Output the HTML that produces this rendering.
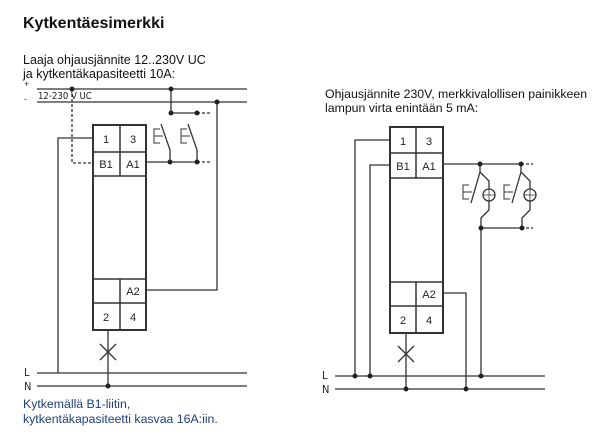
<!DOCTYPE html>
<html><head><meta charset="utf-8"><style>
html,body{margin:0;padding:0;background:#fff;}
svg{display:block;}
text{font-family:"Liberation Sans",Arial,sans-serif;}
.t{font-family:"DejaVu Sans Condensed","Liberation Sans",sans-serif;font-size:11px;fill:#222;}
</style></head><body>
<svg width="600" height="445" viewBox="0 0 600 445" xmlns="http://www.w3.org/2000/svg">
<text x="23" y="28" font-size="16" font-weight="bold" fill="#111">Kytkentäesimerkki</text>
<text x="23" y="64" font-size="12.5" fill="#111">Laaja ohjausjännite 12..230V UC</text>
<text x="23" y="78" font-size="12.5" fill="#111">ja kytkentäkapasiteetti 10A:</text>
<text x="325" y="98" font-size="12.3" fill="#111">Ohjausjännite 230V, merkkivalollisen painikkeen</text>
<text x="325" y="112" font-size="12.3" fill="#111">lampun virta enintään 5 mA:</text>
<text x="23" y="408" font-size="12.3" fill="#1f3f78">Kytkemällä B1-liitin,</text>
<text x="23" y="423" font-size="12.3" fill="#1f3f78">kytkentäkapasiteetti kasvaa 16A:iin.</text>

<g stroke="#333" stroke-width="1.3" fill="none">
<!-- LEFT -->
<line x1="37" y1="89" x2="247" y2="89"/>
<line x1="37" y1="102" x2="247" y2="102"/>
<line x1="37" y1="373" x2="247" y2="373"/>
<line x1="37" y1="386" x2="247" y2="386"/>
<path d="M72 89 V163 H93" stroke-dasharray="3,2"/>
<path d="M93 138 H58 V373"/>
<path d="M171 89 V113 H197"/>
<path d="M197 113 H211" stroke-dasharray="3,2"/>
<path d="M146 162 H197"/>
<path d="M197 162 H211" stroke-dasharray="3,2"/>
<path d="M161 124 L170 150 V162"/>
<path d="M160 129 H154 V143 H160 M154 136 H163" stroke-width="1"/>
<path d="M188 124 L197 150 V162"/>
<path d="M187 129 H181 V143 H187 M181 136 H190" stroke-width="1"/>
<path d="M217 102 V290 H146"/>
<path d="M108 330 V386"/>
<path d="M100 344 L116 360 M116 344 L100 360"/>
<rect x="93" y="125" width="53" height="205" stroke-width="2"/>
<path d="M93 152 H146 M93 176 H146 M93 279 H146 M93 303 H146 M120 125 V176 M120 279 V330" stroke-width="1.5"/>

<!-- RIGHT -->
<line x1="335" y1="376" x2="545" y2="376"/>
<line x1="335" y1="389" x2="545" y2="389"/>
<path d="M390 140 H355 V376"/>
<path d="M390 165 H370 V376"/>
<path d="M443 164 H521"/>
<path d="M521 164 H533" stroke-dasharray="3,2"/>
<path d="M481 228 H521"/>
<path d="M521 228 H533" stroke-dasharray="3,2"/>
<path d="M481 228 V376"/>
<path d="M443 293 H466 V389"/>
<path d="M406 333 V389"/>
<path d="M398 346 L414 362 M414 346 L398 362"/>
<!-- switch+lamp units -->
<g id="u1">
<path d="M480 164 V172 L471 203"/>
<path d="M480 172 L489 181 V189 M489 201 V210 L481 218 V228"/>
<circle cx="489" cy="195" r="6"/>
<path d="M489 189 V201 M483 195 H495" stroke-width="0.8"/>
<path d="M469 185 H463 V199 H469 M463 192 H472" stroke-width="1"/>
</g>
<g transform="translate(41,0)">
<path d="M480 164 V172 L471 203"/>
<path d="M480 172 L489 181 V189 M489 201 V210 L481 218 V228"/>
<circle cx="489" cy="195" r="6"/>
<path d="M489 189 V201 M483 195 H495" stroke-width="0.8"/>
<path d="M469 185 H463 V199 H469 M463 192 H472" stroke-width="1"/>
</g>
<rect x="390" y="127" width="53" height="206" stroke-width="2"/>
<path d="M390 153 H443 M390 178 H443 M390 282 H443 M390 306 H443 M416 127 V178 M416 282 V333" stroke-width="1.5"/>
</g>

<g fill="#222">
<circle cx="72" cy="89" r="2.5"/><circle cx="171" cy="89" r="2.5"/><circle cx="217" cy="102" r="2.5"/>
<circle cx="171" cy="113" r="2.5"/><circle cx="197" cy="113" r="2.5"/>
<circle cx="170" cy="162" r="2.5"/><circle cx="197" cy="162" r="2.5"/>
<circle cx="108" cy="386" r="2.5"/>
<circle cx="480" cy="164" r="2.5"/><circle cx="521" cy="164" r="2.5"/>
<circle cx="481" cy="228" r="2.5"/><circle cx="522" cy="228" r="2.5"/>
<circle cx="355" cy="376" r="2.5"/><circle cx="370" cy="376" r="2.5"/><circle cx="481" cy="376" r="2.5"/>
<circle cx="406" cy="389" r="2.5"/><circle cx="466" cy="389" r="2.5"/>
</g>

<text x="24" y="87" font-size="9" fill="#333">+</text>
<text x="24" y="102" font-size="9" fill="#333">-</text>
<text x="38" y="99" class="t" font-size="9.5" style="font-size:9.5px">12-230 V UC</text>
<text x="24" y="376" class="t">L</text>
<text x="24" y="390" class="t">N</text>
<text x="322" y="379" class="t">L</text>
<text x="322" y="393" class="t">N</text>
<g class="t" text-anchor="middle">
<text x="106" y="143">1</text><text x="133" y="143">3</text>
<text x="106" y="168">B1</text><text x="133" y="168">A1</text>
<text x="133" y="295">A2</text>
<text x="106" y="321">2</text><text x="133" y="321">4</text>
<text x="403" y="145">1</text><text x="429" y="145">3</text>
<text x="403" y="170">B1</text><text x="429" y="170">A1</text>
<text x="429" y="298">A2</text>
<text x="403" y="324">2</text><text x="429" y="324">4</text>
</g>
</svg>
</body></html>
